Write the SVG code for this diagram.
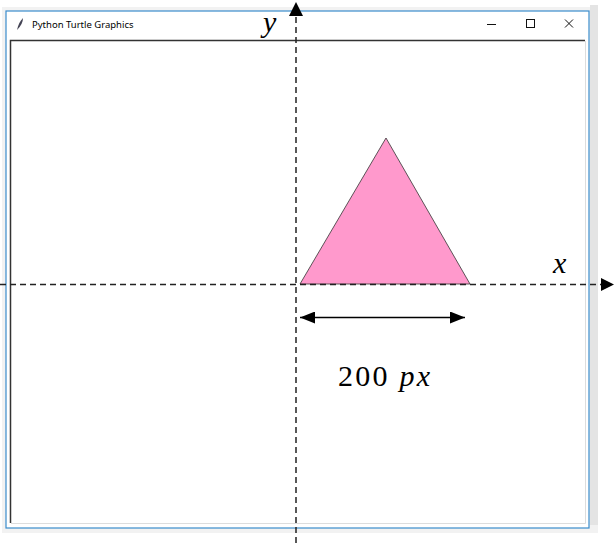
<svg xmlns="http://www.w3.org/2000/svg" width="614" height="543" viewBox="0 0 614 543">
<style>
.axis{stroke:#222;stroke-width:1.5;stroke-dasharray:6 4;fill:none}
.math{font-family:"Liberation Serif",serif;fill:#000}
.ctl{stroke:#111;stroke-width:1;fill:none}
</style>
<defs>
<marker id="ah" viewBox="0 0 15 12" refX="15" refY="6" markerWidth="15" markerHeight="12" markerUnits="userSpaceOnUse" orient="auto-start-reverse"><path d="M0,0 L15,6 L0,12 Z" fill="#000"/></marker>
</defs>
<rect width="614" height="543" fill="#fff"/>
<g id="backdrop">
<rect x="2" y="7" width="596" height="526" fill="#f2f2f2"/>
<rect x="590" y="5" width="8" height="520" fill="#e4e4e4"/>
</g>
<g id="window">
<rect x="6" y="11" width="583" height="517" fill="#fff" stroke="#3a8ccc" stroke-width="1.2"/>
<rect x="10" y="40" width="575" height="484" fill="#fff"/>
<path d="M10.5,523 V40.5 H585" stroke="#333" stroke-width="1.5" fill="none"/>
<path d="M11,523.5 H585.5 V41" stroke="#ddd" stroke-width="1" fill="none"/>
<path d="M17,30 C18,25 20,21 23,18 C23,22 21,26 17,30 Z" fill="#445"/>
<text x="32" y="28" font-family="'Noto Sans','Liberation Sans',sans-serif" font-size="9.5" fill="#000">Python Turtle Graphics</text>
<line x1="487" y1="24.5" x2="496" y2="24.5" class="ctl"/>
<rect x="526.5" y="19.5" width="8" height="8" class="ctl"/>
<path d="M565,19.5 L573,27.5 M573,19.5 L565,27.5" class="ctl"/>
</g>
<g id="triangle">
<polygon points="300,284 470,284 386,138" fill="#ff99cc" stroke="#333" stroke-width="0.8"/>
</g>
<g id="connectors">
<line x1="296" y1="543" x2="296" y2="14" class="axis"/>
<path d="M289,16 L296,2 L303,16 Z" fill="#000"/>
<line x1="0" y1="284.5" x2="601" y2="284.5" class="axis"/>
<path d="M601,278 L614,284.5 L601,291 Z" fill="#000"/>
<line x1="300" y1="317.5" x2="465" y2="317.5" stroke="#000" stroke-width="1.5" marker-start="url(#ah)" marker-end="url(#ah)"/>
</g>
<g id="labels">
<text x="263" y="32" class="math" font-size="30" font-style="italic">y</text>
<text x="553" y="273" class="math" font-size="30" font-style="italic">x</text>
<text x="338" y="386" class="math" font-size="30" textLength="92" lengthAdjust="spacing">200 <tspan font-style="italic">px</tspan></text>
</g>
</svg>
